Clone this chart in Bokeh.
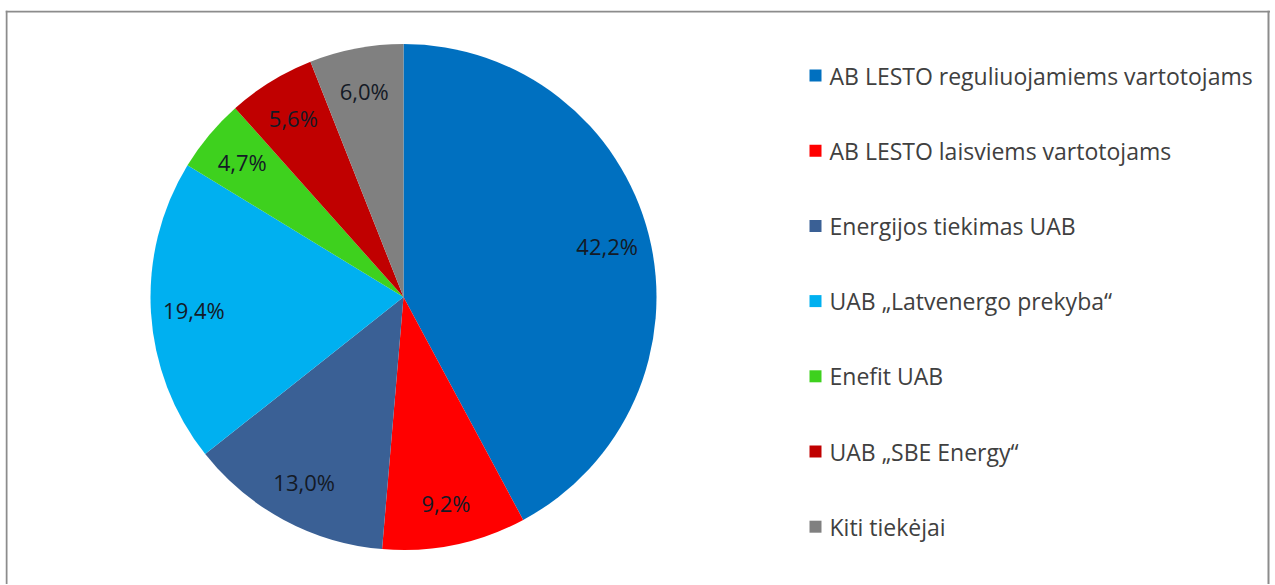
import numpy as np
from bokeh.plotting import figure
from bokeh.models import ColumnDataSource, Range1d, Span
from bokeh.embed import file_html
from bokeh.resources import INLINE
from bokeh.core.properties import value

# ---- data ----
categories = [
    "AB LESTO reguliuojamiems vartotojams",
    "AB LESTO laisviems vartotojams",
    "Energijos tiekimas UAB",
    "UAB \u201eLatvenergo prekyba\u201c",
    "Enefit UAB",
    "UAB \u201eSBE Energy\u201c",
    "Kiti tiek\u0117jai",
]
shares = [42.2, 9.2, 13.0, 19.4, 4.7, 5.6, 6.0]
labels = ["42,2%", "9,2%", "13,0%", "19,4%", "4,7%", "5,6%", "6,0%"]
colors = ["#0070C0", "#FF0000", "#3A6095", "#00B0F0", "#3ED11E", "#C00000", "#808080"]

# ---- layout ----
W, H = 1270, 584
TOP, LEFT = 10, 5
FW, FH = W - LEFT, H - TOP
cx, cy, R = 398, 287.5, 253
label_frac = 0.83
FONT = "Open Sans"

vals = np.array(shares, dtype=float)
frac = vals / vals.sum()
cum_end = np.cumsum(frac)
cum_start = cum_end - frac
start_angle = np.pi / 2 - 2 * np.pi * cum_end
end_angle = np.pi / 2 - 2 * np.pi * cum_start
mid = (start_angle + end_angle) / 2

src = ColumnDataSource(dict(
    x=[cx] * len(vals), y=[cy] * len(vals),
    start=start_angle, end=end_angle, color=colors, cat=categories,
    lx=cx + label_frac * R * np.cos(mid), ly=cy + label_frac * R * np.sin(mid),
    lab=labels,
))

p = figure(width=W, height=H, x_range=Range1d(0, FW), y_range=Range1d(0, FH),
           output_backend="svg", toolbar_location=None,
           x_axis_type=None, y_axis_type=None,
           min_border_left=LEFT, min_border_right=0, min_border_bottom=0, min_border_top=TOP)
p.grid.visible = False
p.outline_line_color = None
p.background_fill_color = "white"
p.border_fill_color = "white"

# chart-area frame (left, top, right; bottom runs off the page)
for loc, dim in [(1, "height"), (FW - 2, "height"), (FH - 1, "width")]:
    p.add_layout(Span(location=loc, dimension=dim, line_color="#8c8c8c", line_width=2))

p.wedge(x="x", y="y", radius=R, start_angle="start", end_angle="end",
        fill_color="color", line_color=None, source=src)

p.text(x="lx", y="ly", text="lab", source=src, text_align="center",
       text_baseline="middle", text_font=value(FONT), text_font_size="22px",
       text_color="#141a26")

# legend (drawn manually)
leg_sq_x = 810
leg_tx_x = 824
leg_top = 509
leg_step = 75.2
ly = [leg_top - i * leg_step for i in range(len(categories))]
lsrc = ColumnDataSource(dict(sx=[leg_sq_x] * len(ly), tx=[leg_tx_x] * len(ly), y=ly,
                             color=colors, cat=categories))
p.scatter(x="sx", y="y", marker="square", size=12, fill_color="color",
          line_color=None, source=lsrc)
p.text(x="tx", y="y", text="cat", source=lsrc, text_align="left",
       text_baseline="middle", text_font=value(FONT), text_font_size="23px",
       text_color="#404040")

open("out.html", "w").write(file_html(p, INLINE))
